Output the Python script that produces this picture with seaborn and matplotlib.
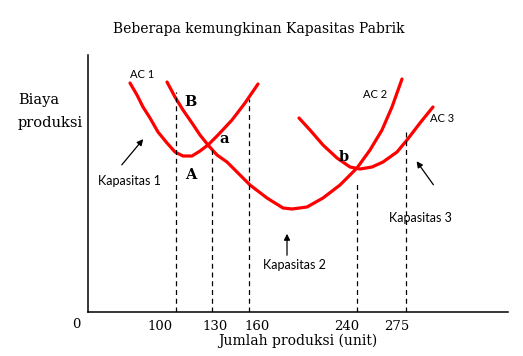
import matplotlib
matplotlib.use("Agg")
import matplotlib.pyplot as plt
import seaborn as sns
import pandas as pd

# Curve points (x: production axis, y: cost), schematic units
ac1_x = [42, 49, 55, 62, 70, 79, 87, 95, 104, 112, 120, 130, 144, 157, 170]
ac1_y = [229, 217, 205, 194, 180, 169, 160, 156, 156, 161, 167, 177, 192, 209, 228]

ac2_x = [79, 87, 95, 104, 112, 120, 129, 139, 150, 162, 179, 195, 204, 219, 235,
         252, 269, 282, 294, 304, 314]
ac2_y = [230, 215, 202, 189, 177, 167, 157, 150, 139, 127, 114, 104, 103, 105, 114,
         127, 144, 162, 182, 205, 233]

ac3_x = [211, 222, 235, 249, 262, 272, 284, 295, 309, 319, 332, 345]
ac3_y = [194, 182, 167, 154, 145, 143, 145, 150, 160, 172, 189, 205]

# dashed guide lines (x position, top height)
guide_x = [88, 124, 161, 269, 318]
guide_top = [220, 162, 213, 129, 180]

# tick labels and where they sit along the axis
tick_labels = ['100', '130', '160', '240', '275']
tick_pos = [72, 127, 169, 259, 309]

curves = pd.concat([
    pd.DataFrame({'x': ac1_x, 'y': ac1_y, 'curve': 'AC1'}),
    pd.DataFrame({'x': ac2_x, 'y': ac2_y, 'curve': 'AC2'}),
    pd.DataFrame({'x': ac3_x, 'y': ac3_y, 'curve': 'AC3'}),
])

sns.set_style("white")
plt.rcParams['font.family'] = ['DejaVu Serif']
plt.rcParams['text.color'] = 'black'
plt.rcParams['xtick.color'] = 'black'

fig = plt.figure(figsize=(5.23, 3.56), dpi=100)
ax = fig.add_axes([88 / 523, 44 / 356, 420 / 523, 257 / 356])

sns.lineplot(data=curves, x='x', y='y', units='curve', estimator=None,
             sort=False, color='#ff0000', linewidth=2.3, ax=ax, legend=False,
             solid_joinstyle='round')

ax.vlines(guide_x, 0, guide_top, colors='black', linestyles=(0, (4, 3)), linewidth=0.9)

ax.set_xlim(0, 420)
ax.set_ylim(0, 257)
for s in ['top', 'right']:
    ax.spines[s].set_visible(False)
for s in ['left', 'bottom']:
    ax.spines[s].set_color('black')
    ax.spines[s].set_linewidth(1.1)

ax.set_yticks([])
ax.set_xticks(tick_pos)
ax.set_xticklabels(tick_labels, fontsize=9.5)
ax.tick_params(axis='x', length=0, pad=6)
ax.text(-12, -13, '0', ha='center', va='center', fontsize=9.5, clip_on=False)
ax.set_xlabel('')
ax.set_ylabel('')

fig.text(298 / 523, 1 - 341 / 356, 'Jumlah produksi (unit)', ha='center', va='center', fontsize=10)
fig.text(259 / 523, 1 - 29 / 356, 'Beberapa kemungkinan Kapasitas Pabrik', ha='center', va='center', fontsize=10)
fig.text(18 / 523, 1 - 100 / 356, 'Biaya', ha='left', va='center', fontsize=10.5)
fig.text(18 / 523, 1 - 123 / 356, 'produksi', ha='left', va='center', fontsize=10.5)

sans = ['Lato', 'DejaVu Sans']
ax.text(42, 237, 'AC 1', ha='left', va='center', fontsize=8, family=sans)
ax.text(275, 217, 'AC 2', ha='left', va='center', fontsize=8, family=sans)
ax.text(342, 193, 'AC 3', ha='left', va='center', fontsize=8, family=sans)
ax.text(41, 131, 'Kapasitas 1', ha='center', va='center', fontsize=9, family=sans)
ax.text(206, 47, 'Kapasitas 2', ha='center', va='center', fontsize=9, family=sans)
ax.text(332, 94, 'Kapasitas 3', ha='center', va='center', fontsize=9, family=sans)

for lbl, x, y in [('B', 102, 210), ('A', 103, 137), ('a', 136, 173), ('b', 256, 155)]:
    ax.text(x, y, lbl, ha='center', va='center', fontsize=10.5, fontweight='bold')

arrow = dict(arrowstyle='-|>', color='black', linewidth=0.9, mutation_scale=9)
ax.annotate('', xy=(57, 175), xytext=(32, 145), arrowprops=arrow)
ax.annotate('', xy=(199, 81), xytext=(199, 54), arrowprops=arrow)
ax.annotate('', xy=(327, 153), xytext=(347, 125), arrowprops=arrow)

fig.savefig('out.png', dpi=100)
plt.close(fig)
